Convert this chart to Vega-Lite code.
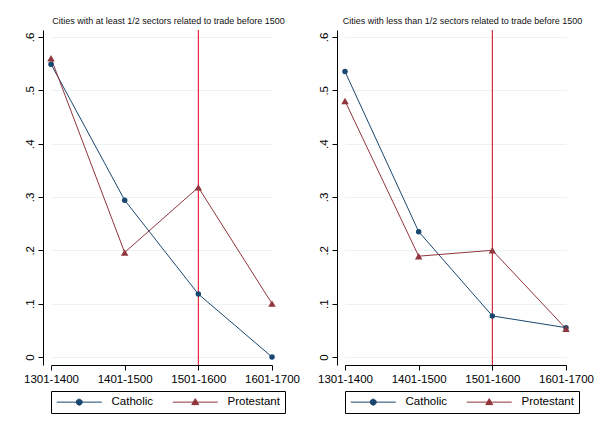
{
  "$schema": "https://vega.github.io/schema/vega-lite/v6.json",
  "background": "white",
  "padding": {"left": 23, "top": 16, "right": 10, "bottom": 5},
  "config": {
    "font": "Liberation Sans",
    "view": {"stroke": null},
    "axis": {
      "domainColor": "black", "tickColor": "black", "labelColor": "black",
      "labelFont": "Liberation Sans", "labelFontSize": 11.5, "tickSize": 5,
      "gridColor": "#eaf2f3", "gridWidth": 1, "title": null
    },
    "title": {"font": "Liberation Sans", "fontSize": 9, "fontWeight": "normal", "color": "#111", "offset": 4},
    "legend": {"labelFont": "Liberation Sans", "labelFontSize": 11.5, "labelColor": "black", "title": null, "orient": "none", "legendX": 8, "legendY": 361, "direction": "horizontal",
      "strokeColor": "black", "padding": 5, "symbolSize": 100, "labelOffset": 44, "columnPadding": 16,
      "symbolStrokeWidth": 1, "symbolOpacity": 1}
  },
  "datasets": {
    "rates": [
      {"panel": "A", "period": "1301-1400", "religion": "Catholic", "value": 0.549},
      {"panel": "A", "period": "1401-1500", "religion": "Catholic", "value": 0.294},
      {"panel": "A", "period": "1501-1600", "religion": "Catholic", "value": 0.118},
      {"panel": "A", "period": "1601-1700", "religion": "Catholic", "value": 0.0},
      {"panel": "A", "period": "1301-1400", "religion": "Protestant", "value": 0.56},
      {"panel": "A", "period": "1401-1500", "religion": "Protestant", "value": 0.196},
      {"panel": "A", "period": "1501-1600", "religion": "Protestant", "value": 0.318},
      {"panel": "A", "period": "1601-1700", "religion": "Protestant", "value": 0.1},
      {"panel": "B", "period": "1301-1400", "religion": "Catholic", "value": 0.535},
      {"panel": "B", "period": "1401-1500", "religion": "Catholic", "value": 0.235},
      {"panel": "B", "period": "1501-1600", "religion": "Catholic", "value": 0.077},
      {"panel": "B", "period": "1601-1700", "religion": "Catholic", "value": 0.055},
      {"panel": "B", "period": "1301-1400", "religion": "Protestant", "value": 0.48},
      {"panel": "B", "period": "1401-1500", "religion": "Protestant", "value": 0.189},
      {"panel": "B", "period": "1501-1600", "religion": "Protestant", "value": 0.2},
      {"panel": "B", "period": "1601-1700", "religion": "Protestant", "value": 0.053}
    ],
    "marker": [{"period": "1501-1600"}]
  },
  "resolve": {"legend": {"fill": "independent", "stroke": "independent", "shape": "independent"}, "scale": {"x": "independent", "y": "independent", "fill": "independent", "stroke": "independent", "shape": "independent"}},
  "spacing": 17,
  "hconcat": [
    {
      "title": "Cities with at least 1/2 sectors related to trade before 1500",
      "width": 251, "height": 335,
      "encoding": {
        "x": {"field": "period", "type": "ordinal",
          "scale": {"type": "point", "domain": ["1301-1400", "1401-1500", "1501-1600", "1601-1700"], "range": [8, 229], "padding": 0},
          "axis": {"labelAngle": 0, "grid": false, "labelPadding": 3}},
        "y": {"field": "value", "type": "quantitative",
          "scale": {"domain": [-0.015, 0.613], "nice": false, "zero": false},
          "axis": {"values": [0, 0.1, 0.2, 0.3, 0.4, 0.5, 0.6], "labelAngle": 270, "labelAlign": "center", "labelBaseline": "bottom", "labelPadding": 3, "grid": true,
            "labelExpr": "datum.value === 0 ? '0' : replace(format(datum.value, '.1f'), '0.', '.')"}}
      },
      "layer": [
        {"data": {"name": "marker"},
         "mark": {"type": "rule", "color": "#e6001a", "strokeWidth": 1},
         "encoding": {"y": {"value": 0}, "y2": {"value": 335}}},
        {"data": {"name": "rates"},
         "transform": [{"filter": "datum.panel === 'A' && datum.religion === 'Catholic'"}],
         "mark": {"type": "line", "strokeWidth": 1, "color": "#1a476f"}},
        {"data": {"name": "rates"},
         "transform": [{"filter": "datum.panel === 'A' && datum.religion === 'Protestant'"}],
         "mark": {"type": "line", "strokeWidth": 1, "color": "#90353b"}},
        {"data": {"name": "rates"},
         "transform": [{"filter": "datum.panel === 'A' && datum.religion === 'Catholic'"}],
         "mark": {"type": "point", "filled": true, "opacity": 1, "shape": "circle", "size": 30, "color": "#1a476f"}},
        {"data": {"name": "rates"},
         "transform": [{"filter": "datum.panel === 'A' && datum.religion === 'Protestant'"}],
         "mark": {"type": "point", "filled": true, "opacity": 1, "shape": "triangle-up", "size": 55, "color": "#90353b"}},
        {"data": {"name": "rates"},
         "transform": [{"filter": "datum.panel === 'A'"}],
         "mark": {"type": "point", "filled": true, "opacity": 0},
         "encoding": {
           "fill": {"field": "religion", "type": "nominal", "scale": {"domain": ["Catholic", "Protestant"], "range": ["#1a476f", "#90353b"]}},
           "stroke": {"field": "religion", "type": "nominal", "scale": {"domain": ["Catholic", "Protestant"], "range": ["#1a476f", "#90353b"]}},
           "shape": {"field": "religion", "type": "nominal", "scale": {"domain": ["Catholic", "Protestant"], "range": ["M-1,0H8M2.9,0A0.6,0.6 0 1,1 4.1,0A0.6,0.6 0 1,1 2.9,0Z", "M-1,0H8M2.8,0.5L3.5,-0.7L4.2,0.5Z"]}}
         }}
      ]
    },
    {
      "title": "Cities with less than 1/2 sectors related to trade before 1500",
      "width": 251, "height": 335,
      "encoding": {
        "x": {"field": "period", "type": "ordinal",
          "scale": {"type": "point", "domain": ["1301-1400", "1401-1500", "1501-1600", "1601-1700"], "range": [8, 229], "padding": 0},
          "axis": {"labelAngle": 0, "grid": false, "labelPadding": 3}},
        "y": {"field": "value", "type": "quantitative",
          "scale": {"domain": [-0.015, 0.613], "nice": false, "zero": false},
          "axis": {"values": [0, 0.1, 0.2, 0.3, 0.4, 0.5, 0.6], "labelAngle": 270, "labelAlign": "center", "labelBaseline": "bottom", "labelPadding": 3, "grid": true,
            "labelExpr": "datum.value === 0 ? '0' : replace(format(datum.value, '.1f'), '0.', '.')"}}
      },
      "layer": [
        {"data": {"name": "marker"},
         "mark": {"type": "rule", "color": "#c8001b", "strokeWidth": 1},
         "encoding": {"y": {"value": 0}, "y2": {"value": 335}}},
        {"data": {"name": "rates"},
         "transform": [{"filter": "datum.panel === 'B' && datum.religion === 'Catholic'"}],
         "mark": {"type": "line", "strokeWidth": 1, "color": "#1a476f"}},
        {"data": {"name": "rates"},
         "transform": [{"filter": "datum.panel === 'B' && datum.religion === 'Protestant'"}],
         "mark": {"type": "line", "strokeWidth": 1, "color": "#90353b"}},
        {"data": {"name": "rates"},
         "transform": [{"filter": "datum.panel === 'B' && datum.religion === 'Catholic'"}],
         "mark": {"type": "point", "filled": true, "opacity": 1, "shape": "circle", "size": 30, "color": "#1a476f"}},
        {"data": {"name": "rates"},
         "transform": [{"filter": "datum.panel === 'B' && datum.religion === 'Protestant'"}],
         "mark": {"type": "point", "filled": true, "opacity": 1, "shape": "triangle-up", "size": 55, "color": "#90353b"}},
        {"data": {"name": "rates"},
         "transform": [{"filter": "datum.panel === 'B'"}],
         "mark": {"type": "point", "filled": true, "opacity": 0},
         "encoding": {
           "fill": {"field": "religion", "type": "nominal", "scale": {"domain": ["Catholic", "Protestant"], "range": ["#1a476f", "#90353b"]}},
           "stroke": {"field": "religion", "type": "nominal", "scale": {"domain": ["Catholic", "Protestant"], "range": ["#1a476f", "#90353b"]}},
           "shape": {"field": "religion", "type": "nominal", "scale": {"domain": ["Catholic", "Protestant"], "range": ["M-1,0H8M2.9,0A0.6,0.6 0 1,1 4.1,0A0.6,0.6 0 1,1 2.9,0Z", "M-1,0H8M2.8,0.5L3.5,-0.7L4.2,0.5Z"]}}
         }}
      ]
    }
  ]
}
